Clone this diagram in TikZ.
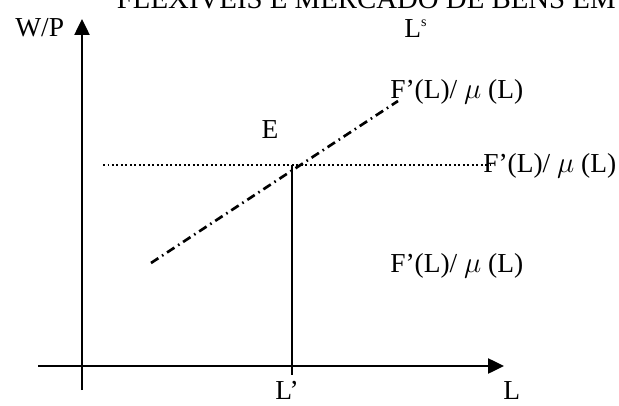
\documentclass[tikz,border=0pt]{standalone}
\usepackage{fontspec}
\setmainfont{Liberation Serif}
\usetikzlibrary{arrows.meta}

\begin{document}
\begin{tikzpicture}[>={Triangle[length=0.4cm,width=0.38cm]},
  every node/.style={font=\fontsize{19.5}{23}\selectfont, inner sep=0pt},
  axis/.style={line width=1.3pt},
  curve/.style={line width=1.9pt, dash pattern=on 0.22cm off 0.11cm on 0.04cm off 0.11cm}]
  \clip (0,0) rectangle (15.475,10.125);

  \node[anchor=base east, font=\fontsize{20.5}{24}\selectfont] (title) at (15.4, 9.91) {FLEXÍVEIS E MERCADO DE BENS EM};

  % eixos
  \coordinate (Y0) at (2.05, 0.375);
  \coordinate (Y1) at (2.05, 9.65);
  \coordinate (X0) at (0.95, 0.975);
  \coordinate (X1) at (12.6, 0.975);
  \draw[axis, ->] (Y0) -- (Y1);
  \draw[axis, ->] (X0) -- (X1);

  \node[anchor=base west] (wp) at (0.375, 9.2) {W/P};
  \node[anchor=base west] (xl) at (12.575, 0.13) {L};
  \node[anchor=base west] (lstar) at (6.875, 0.13) {L’};

  \node[anchor=base west] (ls) at (10.1, 9.175) {L\raisebox{8pt}{\fontsize{10}{12}\selectfont s}};
  \node[anchor=base west] (fup) at (9.75, 7.65) {F’(L)/ $\mu$ (L)};
  \node[anchor=base west] (fmid) at (12.075, 5.825) {F’(L)/ $\mu$ (L)};
  \node[anchor=base west] (flow) at (9.75, 3.325) {F’(L)/ $\mu$ (L)};
  \node (e) at (6.75, 6.875) {E};

  % equilibrio
  \coordinate (E) at (7.3, 6.0);
  \coordinate (Lfoot) at (7.3, 0.75);
  \coordinate (H0) at (2.575, 6.0);
  \coordinate (H1) at (12.25, 6.0);
  \coordinate (C0) at (3.775, 3.55);
  \coordinate (C1) at (9.95, 7.6);

  \draw[line width=1.3pt] (E) -- (Lfoot);
  \draw[line width=1.2pt, dotted] (H0) -- (H1);
  \draw[curve] (C0) -- (C1);
\end{tikzpicture}
\end{document}
